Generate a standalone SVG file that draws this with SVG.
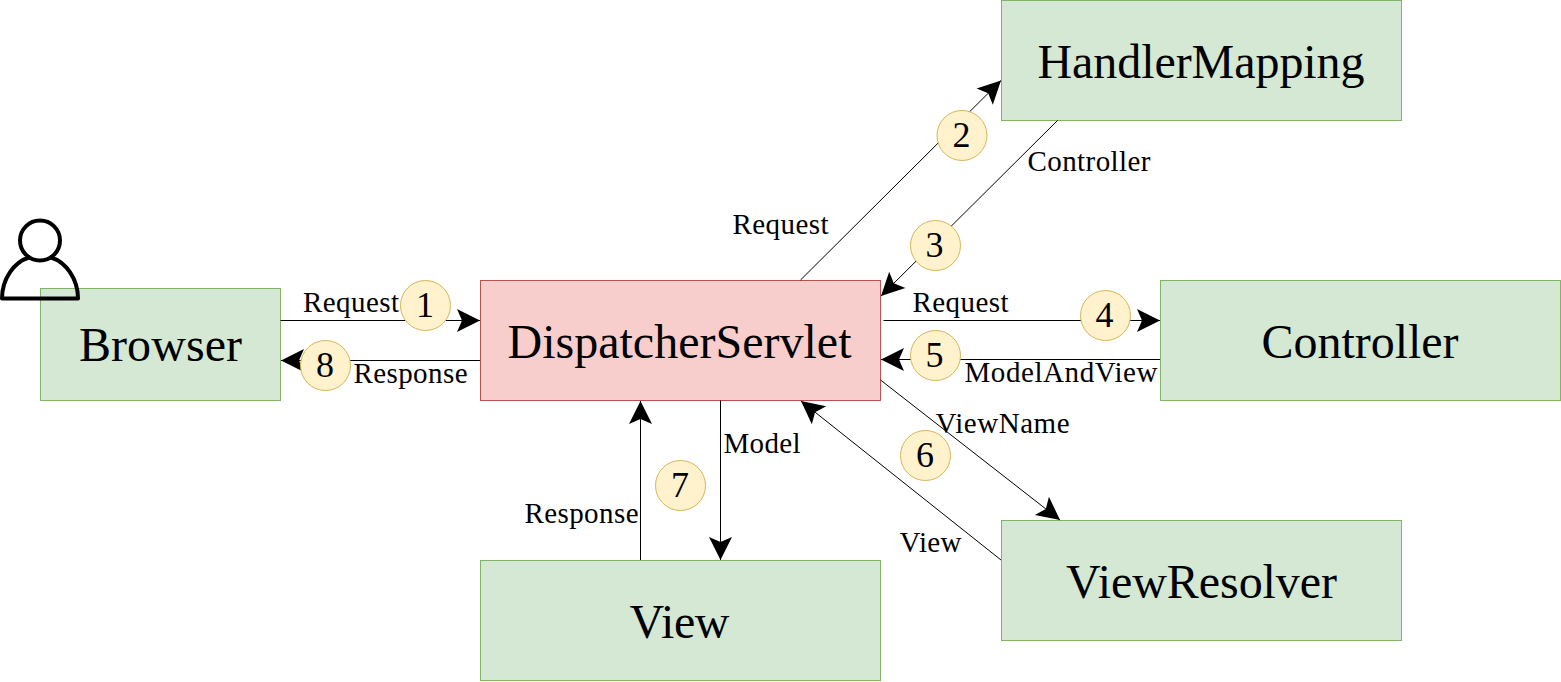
<svg xmlns="http://www.w3.org/2000/svg" width="1561" height="682" viewBox="0 0 1561 682">
<style>
text{font-family:"Liberation Serif","Times New Roman",serif;fill:#000}
.g{fill:#d5e8d4;stroke:#82b366;stroke-width:1}
.r{fill:#f8cecc;stroke:#b85450;stroke-width:1}
.c{fill:#fff2cc;stroke:#d6b656;stroke-width:1}
.big{font-size:48px}
.lab{font-size:29px}
.num{font-size:36px;text-anchor:middle}
.l{fill:none;stroke:#000;stroke-width:1}
.a{marker-end:url(#arrow)}
</style>
<defs>
<marker id="arrow" markerUnits="userSpaceOnUse" markerWidth="28" markerHeight="28" viewBox="-26 -14 28 28" refX="0" refY="0" orient="auto">
<path d="M0,0 L-23,-11.500 L-18,0 L-23,11.500 Z" fill="#000"/>
</marker>
</defs>
<g id="browser"><rect class="g" x="40.5" y="288.5" width="240" height="112"/><text class="big" x="79" y="360.500" textLength="163">Browser</text></g>
<g id="dispatcher"><rect class="r" x="480.5" y="280.5" width="400" height="120"/><text class="big" x="507.500" y="357.500" textLength="344">DispatcherServlet</text></g>
<g id="handlermapping"><rect class="g" x="1001.5" y="0.5" width="400" height="120"/><text class="big" x="1037.500" y="77.500" textLength="327">HandlerMapping</text></g>
<g id="controller"><rect class="g" x="1160.5" y="280.5" width="400" height="120"/><text class="big" x="1261.500" y="357.500" textLength="197">Controller</text></g>
<g id="viewresolver"><rect class="g" x="1001.5" y="520.5" width="400" height="120"/><text class="big" x="1066" y="597.500" textLength="271">ViewResolver</text></g>
<g id="view"><rect class="g" x="480.5" y="560.5" width="400" height="120"/><text class="big" x="629.500" y="637.500" textLength="100">View</text></g>
<g id="user"><circle cx="40" cy="240.500" r="20" fill="none" stroke="#000" stroke-width="4"/><path d="M2,298.500 C2,279 14,262 29,257.500 M51,257.500 C66,262 78,279 78,298.500 M2,298.500 H78" fill="none" stroke="#000" stroke-width="4" stroke-linecap="round"/></g>
<g id="connectors">
<path class="l a" d="M280.500,320.500 H480"/>
<path class="l a" d="M480,360.500 H281"/>
<path class="l a" d="M800.500,280 L1001,80.500"/>
<path class="l a" d="M1057.500,120.500 L881,296"/>
<path class="l a" d="M883.500,320.500 H1160"/>
<path class="l a" d="M1160,359.500 H881"/>
<path class="l a" d="M880.500,380 L1060,520"/>
<path class="l a" d="M1001,560 L801,401"/>
<path class="l a" d="M640.500,560 V401"/>
<path class="l a" d="M720.500,400.500 V560"/>
</g>
<g id="labels">
<text class="lab" x="303" y="312" textLength="96">Request</text>
<text class="lab" x="353.500" y="383" textLength="114">Response</text>
<text class="lab" x="732.500" y="234" textLength="96">Request</text>
<text class="lab" x="1027.500" y="171" textLength="123">Controller</text>
<text class="lab" x="912.500" y="312" textLength="96">Request</text>
<text class="lab" x="964.500" y="382" textLength="193">ModelAndView</text>
<text class="lab" x="935.500" y="433" textLength="134">ViewName</text>
<text class="lab" x="723.500" y="453" textLength="77">Model</text>
<text class="lab" x="524.500" y="523" textLength="114">Response</text>
<text class="lab" x="899.500" y="552" textLength="62">View</text>
</g>
<g id="step1"><circle class="c" cx="425.500" cy="305.500" r="25"/><text class="num" x="425" y="317">1</text></g>
<g id="step2"><circle class="c" cx="962" cy="135.500" r="25"/><text class="num" x="961.500" y="147">2</text></g>
<g id="step3"><circle class="c" cx="935.500" cy="245.500" r="25"/><text class="num" x="934.500" y="257">3</text></g>
<g id="step4"><circle class="c" cx="1105.500" cy="315.500" r="25"/><text class="num" x="1104.500" y="327">4</text></g>
<g id="step5"><circle class="c" cx="935.500" cy="355.500" r="25"/><text class="num" x="934.500" y="367">5</text></g>
<g id="step6"><circle class="c" cx="925.500" cy="455.500" r="25"/><text class="num" x="925" y="467">6</text></g>
<g id="step7"><circle class="c" cx="680.500" cy="485.500" r="25"/><text class="num" x="680" y="497">7</text></g>
<g id="step8"><circle class="c" cx="325.500" cy="365.500" r="25"/><text class="num" x="325" y="377">8</text></g>
</svg>
